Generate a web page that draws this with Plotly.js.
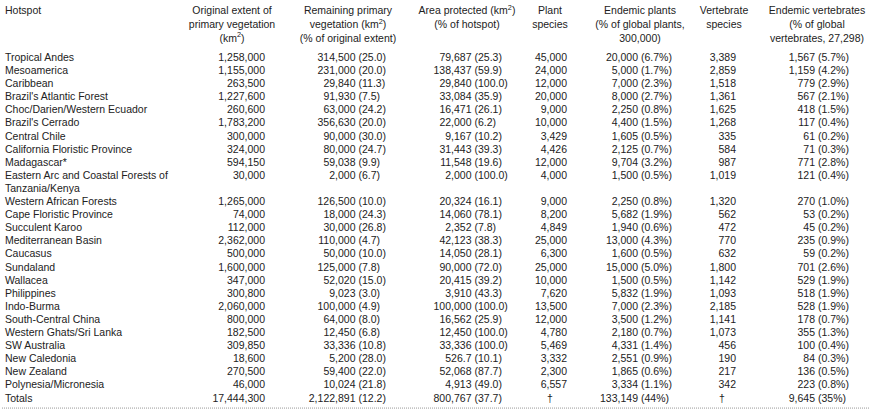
<!DOCTYPE html>
<html>
<head>
<meta charset="utf-8">
<script src="https://cdn.plot.ly/plotly-3.0.1.min.js"></script>
<style>
  html, body { margin: 0; padding: 0; background: #fff; }
  #hotspot-table { width: 872px; height: 413px; }
</style>
</head>
<body>
<div id="hotspot-table"></div>
<script>
// Biodiversity hotspots - extent, protection and endemism (one entry per row, last row = totals)
const hotspots = [
    'Tropical Andes', 'Mesoamerica', 'Caribbean', "Brazil's Atlantic Forest",
    'Choc/Darien/Western Ecuador', "Brazil's Cerrado", 'Central Chile',
    'California Floristic Province', 'Madagascar*',
    'Eastern Arc and Coastal Forests of<br>Tanzania/Kenya',
    'Western African Forests', 'Cape Floristic Province', 'Succulent Karoo',
    'Mediterranean Basin', 'Caucasus', 'Sundaland', 'Wallacea', 'Philippines',
    'Indo-Burma', 'South-Central China', 'Western Ghats/Sri Lanka', 'SW Australia',
    'New Caledonia', 'New Zealand', 'Polynesia/Micronesia', 'Totals'
];
const originalExtent = [
    1258000, 1155000, 263500, 1227600, 260600, 1783200, 300000, 324000, 594150,
    30000, 1265000, 74000, 112000, 2362000, 500000, 1600000, 347000, 300800,
    2060000, 800000, 182500, 309850, 18600, 270500, 46000, 17444300
];
const remainingArea = [
    314500, 231000, 29840, 91930, 63000, 356630, 90000, 80000, 59038, 2000,
    126500, 18000, 30000, 110000, 50000, 125000, 52020, 9023, 100000, 64000,
    12450, 33336, 5200, 59400, 10024, 2122891
];
const remainingPct = [
    '25.0', '20.0', '11.3', '7.5', '24.2', '20.0', '30.0', '24.7', '9.9', '6.7',
    '10.0', '24.3', '26.8', '4.7', '10.0', '7.8', '15.0', '3.0', '4.9', '8.0',
    '6.8', '10.8', '28.0', '22.0', '21.8', '12.2'
];
const protectedArea = [
    79687, 138437, 29840, 33084, 16471, 22000, 9167, 31443, 11548, 2000,
    20324, 14060, 2352, 42123, 14050, 90000, 20415, 3910, 100000, 16562,
    12450, 33336, 526.7, 52068, 4913, 800767
];
const protectedPct = [
    '25.3', '59.9', '100.0', '35.9', '26.1', '6.2', '10.2', '39.3', '19.6', '100.0',
    '16.1', '78.1', '7.8', '38.3', '28.1', '72.0', '39.2', '43.3', '100.0', '25.9',
    '100.0', '100.0', '10.1', '87.7', '49.0', '37.7'
];
const plantSpecies = [
    45000, 24000, 12000, 20000, 9000, 10000, 3429, 4426, 12000, 4000,
    9000, 8200, 4849, 25000, 6300, 25000, 10000, 7620, 13500, 12000,
    4780, 5469, 3332, 2300, 6557, '\u2020'
];
const endemicPlants = [
    20000, 5000, 7000, 8000, 2250, 4400, 1605, 2125, 9704, 1500,
    2250, 5682, 1940, 13000, 1600, 15000, 1500, 5832, 7000, 3500,
    2180, 4331, 2551, 1865, 3334, 133149
];
const endemicPlantsPct = [
    '6.7', '1.7', '2.3', '2.7', '0.8', '1.5', '0.5', '0.7', '3.2', '0.5',
    '0.8', '1.9', '0.6', '4.3', '0.5', '5.0', '0.5', '1.9', '2.3', '1.2',
    '0.7', '1.4', '0.9', '0.6', '1.1', '44'
];
const vertebrateSpecies = [
    3389, 2859, 1518, 1361, 1625, 1268, 335, 584, 987, 1019,
    1320, 562, 472, 770, 632, 1800, 1142, 1093, 2185, 1141,
    1073, 456, 190, 217, 342, '\u2020'
];
const endemicVertebrates = [
    1567, 1159, 779, 567, 418, 117, 61, 71, 771, 121,
    270, 53, 45, 235, 59, 701, 529, 518, 528, 178,
    355, 100, 84, 136, 223, 9645
];
const endemicVertebratesPct = [
    '5.7', '4.2', '2.9', '2.1', '1.5', '0.4', '0.2', '0.3', '2.8', '0.4',
    '1.0', '0.2', '0.2', '0.9', '0.2', '2.6', '1.9', '1.9', '1.9', '0.7',
    '1.3', '0.4', '0.3', '0.5', '0.8', '35'
];

const headerLabels = [
    'Hotspot',
    'Original extent of<br>primary vegetation<br>(km<sup>2</sup>)',
    'Remaining primary<br>vegetation (km<sup>2</sup>)<br>(% of original extent)',
    'Area protected (km<sup>2</sup>)<br>(% of hotspot)',
    'Plant<br>species',
    'Endemic plants<br>(% of global plants,<br>300,000)',
    'Vertebrate<br>species',
    'Endemic vertebrates<br>(% of global<br>vertebrates, 27,298)'
];

// layout in pixels (x axis spans the page width 1:1)
const W = 872, H = 413;
const FIRST_ROW = 58.3, ROW_STEP = 13.1;
const headerX = [5, 232, 348, 467, 550, 640, 724, 817];
const headerPos = ['bottom right', 'bottom center', 'bottom center', 'bottom center',
                   'bottom center', 'bottom center', 'bottom center', 'bottom center'];
const font = { family: '"Liberation Sans", Arial, sans-serif', size: 10.5, color: '#222' };

// line index of every row (a wrapped name pushes the following rows down)
const nLines = hotspots.map(h => h.split('<br>').length);
const rowLine = [];
nLines.reduce((acc, n, i) => { rowLine[i] = acc; return acc + n; }, 0);

const fmt = v => typeof v === 'number' ? v.toLocaleString('en-US') : v;

function textTrace(x, y, text, pos) {
    return {
        type: 'scatter', mode: 'text',
        x: x, y: y, text: text, textposition: pos,
        textfont: font, hoverinfo: 'skip', cliponaxis: false, showlegend: false
    };
}

// right-aligned number column; non-numbers (daggers) centered under the heading
function numberCol(values, right, mid) {
    return textTrace(
        values.map(v => typeof v === 'number' ? right : mid),
        rowLine,
        values.map(fmt),
        values.map(v => typeof v === 'number' ? 'middle left' : 'middle center')
    );
}
// "(pct)" part, left-aligned right after the number
function pctCol(values, left, suffix) {
    return textTrace(values.map(() => left), rowLine,
        values.map(p => '(' + p + suffix + ')'), 'middle right');
}

const traces = [
    textTrace(headerX, headerX.map(() => -3.95), headerLabels, headerPos),
    textTrace(hotspots.map(() => 5), rowLine.map((l, i) => l + (nLines[i] - 1) / 2),
              hotspots, 'middle right'),
    numberCol(originalExtent, 265),
    numberCol(remainingArea, 355.5),
    pctCol(remainingPct, 358.5, ''),
    numberCol(protectedArea, 471.5),
    pctCol(protectedPct, 474.5, ''),
    numberCol(plantSpecies, 567, 550),
    numberCol(endemicPlants, 638),
    pctCol(endemicPlantsPct, 641, '%'),
    numberCol(vertebrateSpecies, 736, 722),
    numberCol(endemicVertebrates, 815),
    pctCol(endemicVertebratesPct, 818, '%')
];

const lastLine = rowLine[rowLine.length - 1];
const layout = {
    width: W, height: H,
    margin: { l: 0, r: 0, t: 0, b: 0 },
    paper_bgcolor: '#fff', plot_bgcolor: '#fff',
    xaxis: { range: [0, W], visible: false, fixedrange: true },
    yaxis: { range: [(H - FIRST_ROW) / ROW_STEP, -FIRST_ROW / ROW_STEP], visible: false, fixedrange: true },
    showlegend: false,
    hovermode: false,
    // fine dotted rule under the totals
    shapes: [{
        type: 'line', xref: 'x', yref: 'y',
        x0: 2, x1: 870, y0: lastLine + 0.7, y1: lastLine + 0.7,
        line: { color: '#999', width: 1, dash: '1px,1px' }
    }]
};

Plotly.newPlot('hotspot-table', traces, layout, { staticPlot: true, displayModeBar: false });
</script>
</body>
</html>
